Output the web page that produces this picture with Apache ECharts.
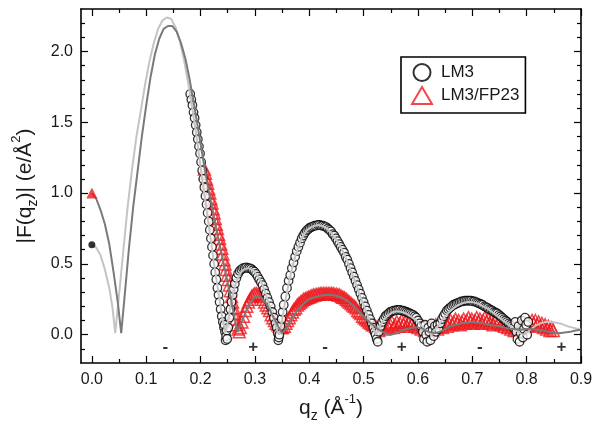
<!DOCTYPE html>
<html><head><meta charset="utf-8">
<script src="https://cdn.jsdelivr.net/npm/echarts@6/dist/echarts.min.js"></script>
<style>html,body{margin:0;padding:0;background:#fff}#c{width:601px;height:432px}</style>
</head><body><div id="c"></div>
<script>
const xMajor = [0, 0.1, 0.2, 0.3, 0.4, 0.5, 0.6, 0.7, 0.8, 0.9];
const xMinor = [0.05, 0.15, 0.25, 0.35, 0.45, 0.55, 0.65, 0.75, 0.85];
const yMajor = [0, 0.5, 1.0, 1.5, 2.0];
const yMinor = [-0.1, 0.1, 0.2, 0.3, 0.4, 0.6, 0.7, 0.8, 0.9, 1.1, 1.2, 1.3, 1.4, 1.6, 1.7, 1.8, 1.9, 2.1, 2.2];

// LM3 measured (black open circles)
const lm3Data = [
[0.181,1.70],[0.183,1.66],[0.185,1.62],[0.187,1.57],[0.189,1.53],[0.191,1.48],[0.193,1.43],[0.195,1.38],[0.197,1.33],[0.199,1.28],
[0.201,1.22],[0.203,1.16],[0.205,1.10],[0.207,1.04],[0.209,0.98],[0.211,0.92],[0.213,0.86],[0.215,0.80],[0.217,0.74],[0.219,0.68],
[0.221,0.62],[0.223,0.56],[0.225,0.50],[0.227,0.44],[0.229,0.39],[0.231,0.33],[0.233,0.28],[0.235,0.23],[0.237,0.18],[0.239,0.13],
[0.241,0.09],[0.243,0.05],[0.244,0.07],[0.245,0.02],[0.246,-0.04],[0.247,-0.01],[0.248,0.03],[0.249,-0.03],
[0.251,0.05],[0.253,0.12],[0.255,0.18],[0.257,0.23],[0.259,0.28],[0.261,0.32],[0.263,0.36],[0.266,0.40],[0.269,0.43],[0.272,0.45],
[0.275,0.46],[0.278,0.47],[0.281,0.47],[0.284,0.475],[0.287,0.47],[0.290,0.47],[0.293,0.465],[0.296,0.455],[0.299,0.445],[0.302,0.43],
[0.305,0.41],[0.308,0.39],[0.311,0.37],[0.314,0.35],[0.317,0.32],[0.320,0.29],[0.323,0.26],[0.326,0.23],[0.329,0.20],[0.332,0.16],
[0.335,0.12],[0.338,0.08],[0.340,0.05],[0.342,0.01],[0.343,-0.04],[0.344,-0.02],[0.345,0.00],
[0.347,0.06],[0.349,0.11],[0.351,0.16],[0.353,0.21],[0.356,0.27],[0.359,0.33],[0.362,0.38],[0.365,0.42],[0.368,0.47],[0.371,0.51],
[0.374,0.55],[0.377,0.59],[0.380,0.62],[0.383,0.65],[0.386,0.68],[0.389,0.70],[0.392,0.72],[0.395,0.735],[0.398,0.745],[0.401,0.755],
[0.404,0.76],[0.407,0.765],[0.410,0.77],[0.413,0.77],[0.416,0.775],[0.419,0.775],[0.422,0.77],[0.425,0.77],[0.428,0.765],[0.431,0.76],
[0.434,0.75],[0.437,0.74],[0.440,0.73],[0.443,0.71],[0.446,0.70],[0.449,0.68],[0.452,0.66],[0.455,0.64],[0.458,0.62],[0.461,0.60],
[0.464,0.58],[0.467,0.55],[0.470,0.53],[0.473,0.50],[0.476,0.47],[0.479,0.44],[0.482,0.41],[0.485,0.38],[0.488,0.35],[0.491,0.32],
[0.494,0.29],[0.497,0.26],[0.500,0.23],[0.503,0.20],[0.506,0.17],[0.509,0.14],[0.512,0.11],[0.515,0.08],[0.518,0.05],[0.520,0.02],
[0.522,0.00],[0.524,-0.03],[0.526,-0.05],
[0.528,0.02],[0.531,0.06],[0.534,0.09],[0.537,0.11],[0.540,0.13],[0.543,0.14],[0.546,0.15],[0.549,0.16],[0.552,0.165],[0.555,0.17],
[0.558,0.17],[0.561,0.175],[0.564,0.175],[0.567,0.175],[0.570,0.17],[0.573,0.17],[0.576,0.165],[0.579,0.16],[0.582,0.155],[0.585,0.15],
[0.588,0.145],[0.591,0.14],[0.594,0.13],[0.597,0.12],[0.600,0.10],[0.603,0.08],[0.606,0.06],
[0.609,0.02],[0.611,-0.03],[0.613,0.07],[0.615,0.00],[0.617,-0.05],[0.619,0.05],[0.621,0.02],[0.623,-0.04],[0.625,0.08],[0.627,0.03],
[0.629,-0.01],[0.631,0.06],[0.633,0.02],[0.636,0.07],[0.638,0.04],
[0.641,0.08],[0.644,0.11],[0.647,0.13],[0.650,0.15],[0.653,0.17],[0.656,0.18],[0.659,0.19],[0.662,0.20],[0.665,0.21],[0.668,0.215],
[0.671,0.22],[0.674,0.225],[0.677,0.23],[0.680,0.235],[0.683,0.235],[0.686,0.24],[0.689,0.24],[0.692,0.24],[0.695,0.24],[0.698,0.24],
[0.701,0.235],[0.704,0.235],[0.707,0.23],[0.710,0.225],[0.713,0.22],[0.716,0.215],[0.719,0.21],[0.722,0.20],[0.725,0.195],[0.728,0.19],
[0.731,0.18],[0.734,0.175],[0.737,0.17],[0.740,0.16],[0.743,0.155],[0.746,0.15],[0.749,0.14],[0.752,0.13],[0.755,0.12],[0.758,0.11],
[0.761,0.10],[0.764,0.09],[0.767,0.08],[0.770,0.07],[0.773,0.06],
[0.776,0.05],[0.779,0.09],[0.781,0.02],[0.783,-0.03],[0.785,0.06],[0.787,-0.05],[0.789,0.01],[0.791,0.10],[0.793,-0.02],[0.795,0.04],
[0.797,0.12],[0.799,0.07],[0.801,0.00],[0.803,0.09]
];

// LM3/FP23 measured (red open triangles)
const fpData = [
[0.207,1.17],[0.209,1.14],[0.211,1.10],[0.213,1.07],[0.215,1.03],[0.217,1.00],[0.219,0.96],[0.221,0.93],[0.223,0.89],[0.225,0.86],
[0.227,0.82],[0.229,0.78],[0.231,0.75],[0.233,0.71],[0.235,0.68],[0.237,0.64],[0.239,0.61],[0.241,0.57],[0.243,0.53],[0.245,0.50],
[0.247,0.46],[0.249,0.42],[0.251,0.39],[0.253,0.35],[0.255,0.31],[0.257,0.27],[0.259,0.23],[0.261,0.19],[0.263,0.15],[0.265,0.11],
[0.267,0.07],[0.269,0.04],[0.271,0.02],
[0.273,0.05],[0.276,0.09],[0.279,0.13],[0.282,0.17],[0.285,0.20],[0.288,0.23],[0.291,0.25],[0.294,0.27],[0.297,0.28],[0.300,0.29],
[0.303,0.29],[0.306,0.285],[0.309,0.28],[0.312,0.27],[0.315,0.25],[0.318,0.23],[0.321,0.21],[0.324,0.19],[0.327,0.17],[0.330,0.14],
[0.333,0.12],[0.336,0.10],[0.339,0.08],[0.342,0.07],[0.345,0.06],[0.348,0.05],
[0.351,0.05],[0.354,0.06],[0.357,0.08],[0.360,0.10],[0.363,0.12],[0.366,0.14],[0.369,0.16],[0.372,0.18],[0.375,0.19],[0.378,0.21],
[0.381,0.22],[0.384,0.23],[0.387,0.24],[0.390,0.25],[0.393,0.255],[0.396,0.26],[0.399,0.265],[0.402,0.27],[0.405,0.275],[0.408,0.28],
[0.411,0.28],[0.414,0.285],[0.417,0.285],[0.420,0.29],[0.423,0.29],[0.426,0.29],[0.429,0.29],[0.432,0.29],[0.435,0.29],[0.438,0.29],
[0.441,0.29],[0.444,0.29],[0.447,0.285],[0.450,0.285],[0.453,0.28],[0.456,0.28],[0.459,0.27],[0.462,0.265],[0.465,0.26],[0.468,0.25],
[0.471,0.24],[0.474,0.23],[0.477,0.22],[0.480,0.21],[0.483,0.20],[0.486,0.19],[0.489,0.17],[0.492,0.16],[0.495,0.15],[0.498,0.13],
[0.501,0.12],[0.504,0.11],[0.507,0.10],[0.510,0.09],[0.513,0.08],[0.516,0.07],[0.519,0.07],
[0.522,0.06],[0.525,0.05],[0.528,0.03],[0.531,0.05],[0.534,0.07],[0.537,0.04],[0.540,0.06],[0.543,0.08],[0.546,0.05],[0.549,0.07],
[0.552,0.09],[0.555,0.05],[0.558,0.07],[0.561,0.09],[0.564,0.06],[0.567,0.08],[0.570,0.10],[0.573,0.07],[0.576,0.09],[0.579,0.06],
[0.582,0.08],[0.585,0.10],[0.588,0.07],[0.591,0.09],[0.594,0.06],[0.597,0.08],[0.600,0.05],[0.603,0.07],[0.606,0.04],[0.609,0.06],
[0.612,0.03],[0.615,0.05],[0.618,0.02],[0.621,0.04],[0.624,0.06],[0.627,0.03],[0.630,0.05],[0.633,0.07],[0.636,0.04],[0.639,0.06],
[0.642,0.08],[0.645,0.05],[0.648,0.07],[0.651,0.09],[0.654,0.06],[0.657,0.08],[0.660,0.10],[0.663,0.07],[0.666,0.09],[0.669,0.11],
[0.672,0.08],[0.675,0.10],[0.678,0.07],[0.681,0.09],[0.684,0.11],[0.687,0.08],[0.690,0.10],[0.693,0.12],[0.696,0.09],[0.699,0.11],
[0.702,0.08],[0.705,0.10],[0.708,0.12],[0.711,0.09],[0.714,0.11],[0.717,0.08],[0.720,0.10],[0.723,0.12],[0.726,0.09],[0.729,0.11],
[0.732,0.08],[0.735,0.10],[0.738,0.07],[0.741,0.09],[0.744,0.11],[0.747,0.08],[0.750,0.10],[0.753,0.07],[0.756,0.09],[0.759,0.06],
[0.762,0.08],[0.765,0.05],[0.768,0.07],[0.771,0.04],[0.774,0.06],[0.777,0.03],[0.780,0.05],[0.783,0.03],[0.786,0.06],[0.789,0.04],
[0.792,0.07],[0.795,0.05],[0.798,0.08],[0.801,0.06],[0.804,0.09],[0.807,0.07],[0.810,0.10],[0.813,0.08],[0.816,0.10],[0.819,0.07],
[0.822,0.09],[0.825,0.06],[0.828,0.08],[0.831,0.05],[0.834,0.07],[0.837,0.04],[0.840,0.06],[0.843,0.03],[0.846,0.05],[0.849,0.03]
];

// first points (filled)
const lm3First = [[0.0, 0.635]];
const fpFirst = [[0.0, 1.0]];

// model fit for LM3 (light gray)
const fitLm3 = [
[0.000,0.635],[0.008,0.615],[0.016,0.56],[0.024,0.46],[0.032,0.33],[0.038,0.19],[0.043,0.01],[0.050,0.28],[0.058,0.60],[0.066,0.91],
[0.074,1.17],[0.082,1.40],[0.090,1.58],[0.098,1.77],[0.106,1.93],[0.114,2.06],[0.122,2.16],[0.130,2.22],[0.138,2.24],[0.146,2.23],
[0.154,2.17],[0.162,2.07],[0.170,1.93],[0.178,1.76],[0.186,1.57],[0.194,1.36],[0.202,1.13],[0.210,0.91],[0.218,0.69],[0.226,0.47],
[0.234,0.27],[0.240,0.12],[0.246,0.01],
[0.252,0.13],[0.258,0.26],[0.264,0.35],[0.270,0.41],[0.276,0.45],[0.282,0.465],[0.288,0.47],[0.294,0.46],[0.300,0.44],[0.306,0.41],
[0.312,0.37],[0.318,0.31],[0.324,0.24],[0.330,0.16],[0.336,0.09],[0.342,0.02],[0.345,0.00],
[0.350,0.10],[0.356,0.24],[0.362,0.36],[0.368,0.46],[0.374,0.55],[0.380,0.62],[0.386,0.68],[0.392,0.72],[0.398,0.745],[0.404,0.76],
[0.410,0.77],[0.416,0.775],[0.422,0.77],[0.428,0.76],[0.434,0.745],[0.440,0.72],[0.446,0.69],[0.452,0.66],[0.458,0.62],[0.464,0.57],
[0.470,0.52],[0.476,0.46],[0.482,0.40],[0.488,0.34],[0.494,0.27],[0.500,0.21],[0.506,0.15],[0.512,0.09],[0.518,0.04],[0.523,0.00],
[0.530,0.06],[0.538,0.11],[0.546,0.14],[0.554,0.16],[0.562,0.165],[0.570,0.16],[0.578,0.15],[0.586,0.13],[0.594,0.11],[0.602,0.08],
[0.610,0.05],[0.618,0.02],[0.625,0.00],
[0.632,0.04],[0.640,0.08],[0.650,0.13],[0.660,0.17],[0.670,0.20],[0.680,0.22],[0.690,0.23],[0.700,0.23],[0.710,0.22],[0.720,0.20],
[0.730,0.18],[0.740,0.15],[0.750,0.12],[0.760,0.09],[0.770,0.06],[0.780,0.03],[0.790,0.005],[0.795,0.00],
[0.805,0.03],[0.815,0.06],[0.825,0.08],[0.835,0.09],[0.845,0.09],[0.855,0.085],[0.865,0.075],[0.875,0.06],[0.885,0.05],[0.895,0.04],
[0.900,0.035]
];

// model fit for LM3/FP23 (dark gray)
const fitFp = [
[0.000,1.00],[0.008,0.96],[0.016,0.88],[0.024,0.78],[0.032,0.64],[0.040,0.44],[0.048,0.22],[0.054,0.01],[0.060,0.26],[0.068,0.60],
[0.076,0.90],[0.084,1.15],[0.092,1.40],[0.100,1.62],[0.108,1.82],[0.116,1.98],[0.124,2.09],[0.132,2.16],[0.140,2.18],[0.148,2.18],
[0.156,2.14],[0.164,2.06],[0.172,1.95],[0.180,1.80],[0.190,1.58],[0.200,1.35],[0.208,1.16],[0.216,1.00],[0.224,0.84],[0.232,0.69],
[0.240,0.55],[0.248,0.40],[0.256,0.25],[0.262,0.13],[0.268,0.02],
[0.276,0.09],[0.284,0.17],[0.292,0.23],[0.300,0.265],[0.306,0.27],[0.312,0.26],[0.320,0.225],[0.328,0.17],[0.336,0.11],[0.344,0.05],
[0.350,0.01],
[0.358,0.05],[0.366,0.10],[0.374,0.15],[0.382,0.19],[0.390,0.22],[0.400,0.25],[0.410,0.265],[0.420,0.275],[0.430,0.28],[0.440,0.28],
[0.450,0.275],[0.460,0.26],[0.470,0.24],[0.480,0.21],[0.490,0.17],[0.500,0.13],[0.510,0.09],[0.520,0.06],[0.530,0.03],[0.540,0.01],
[0.550,0.00],[0.560,0.01],[0.570,0.03],[0.580,0.04],[0.590,0.05],[0.600,0.05],[0.610,0.04],[0.620,0.02],[0.630,0.01],[0.640,0.02],
[0.650,0.04],[0.660,0.06],[0.670,0.07],[0.680,0.08],[0.690,0.085],[0.700,0.09],[0.710,0.085],[0.720,0.08],[0.730,0.07],[0.740,0.065],
[0.750,0.06],[0.760,0.05],[0.770,0.04],[0.780,0.04],[0.790,0.035],[0.800,0.04],[0.810,0.04],[0.820,0.035],[0.830,0.03],[0.840,0.02],
[0.850,0.015],[0.860,0.01],[0.870,0.015],[0.880,0.02],[0.890,0.03],[0.900,0.035]
];

// sign annotations
const signQ = [0.135, 0.297, 0.429, 0.570, 0.714, 0.864];
const signText = ['-', '+', '-', '+', '-', '+'];
const signY = -0.09;

const FONT = 'Liberation Sans, Arial, Helvetica, sans-serif';
const TXT = '#1a1a1a';
const chart = echarts.init(document.getElementById('c'), null, {renderer: 'canvas'});

const nameStyle = {fontSize: 21, fontFamily: FONT, color: TXT, lineHeight: 30,
  rich: {s: {fontSize: 14, fontFamily: FONT, color: TXT, verticalAlign: 'bottom', lineHeight: 30},
         p: {fontSize: 13, fontFamily: FONT, color: TXT, verticalAlign: 'top', lineHeight: 30}}};

function xAx(pos, vals, len, showLine, showLabel, name) {
  const a = {
    type: 'value', position: pos, min: -0.02, max: 0.9, gridIndex: 0,
    axisLine: {show: showLine, onZero: false, lineStyle: {color: '#000', width: 1.6}},
    axisTick: {show: true, inside: true, length: len, customValues: vals, lineStyle: {color: '#000', width: 1.2}},
    axisLabel: {show: showLabel, customValues: vals, formatter: v => v.toFixed(1), color: TXT, fontSize: 16, fontFamily: FONT, margin: 9},
    splitLine: {show: false}
  };
  if (name) { a.name = name; a.nameLocation = 'middle'; a.nameGap = 29; a.nameTextStyle = nameStyle; }
  return a;
}
function yAx(pos, vals, len, showLine, showLabel, name) {
  const a = {
    type: 'value', position: pos, min: -0.2, max: 2.3, gridIndex: 0,
    axisLine: {show: showLine, onZero: false, lineStyle: {color: '#000', width: 1.6}},
    axisTick: {show: true, inside: true, length: len, customValues: vals, lineStyle: {color: '#000', width: 1.2}},
    axisLabel: {show: showLabel, customValues: vals, formatter: v => v.toFixed(1), color: TXT, fontSize: 16, fontFamily: FONT, margin: 8},
    splitLine: {show: false}
  };
  if (name) { a.name = name; a.nameLocation = 'middle'; a.nameGap = 41; a.nameRotate = 90; a.nameTextStyle = nameStyle; }
  return a;
}

const option = {
  backgroundColor: '#fff',
  animation: false,
  grid: {left: 81, top: 9, right: 20, bottom: 69, containLabel: false},
  xAxis: [
    xAx('bottom', xMajor, 7, true, true, 'q{s|z} (Å{p|-1})'),
    xAx('bottom', xMinor, 4, false, false),
    xAx('top', xMajor, 7, true, false),
    xAx('top', xMinor, 4, false, false)
  ],
  yAxis: [
    yAx('left', yMajor, 7, true, true, '|F(q{s|z})| (e/Å{p|2})'),
    yAx('left', yMinor, 4, false, false),
    yAx('right', yMajor, 7, true, false),
    yAx('right', yMinor, 4, false, false)
  ],
  legend: {
    orient: 'vertical', left: 401, top: 57,
    data: ['LM3', 'LM3/FP23'],
    itemWidth: 20, itemHeight: 17, itemGap: 4,
    padding: [6, 6, 8, 10],
    borderColor: '#000', borderWidth: 1.6, backgroundColor: '#fff',
    textStyle: {fontSize: 17, fontFamily: FONT, color: TXT, padding: [0, 0, 0, 4]}
  },
  series: [
    {name: 'LM3/FP23', type: 'scatter', data: fpData, symbol: 'triangle', symbolSize: 12, z: 2,
     itemStyle: {color: 'rgba(255,255,255,0)', borderColor: '#ec1a1f', borderWidth: 1.5}},
    {name: 'LM3', type: 'scatter', data: lm3Data, symbol: 'circle', symbolSize: 8.5, z: 3,
     itemStyle: {color: '#fff', borderColor: '#000', borderWidth: 1.3}},
    {name: 'fitLM3', type: 'line', data: fitLm3, showSymbol: false, symbol: 'none', z: 4,
     lineStyle: {color: '#c4c4c4', width: 2}},
    {name: 'fitFP', type: 'line', data: fitFp, showSymbol: false, symbol: 'none', z: 5,
     lineStyle: {color: '#7a7a7a', width: 2}},
    {name: 'fpFirst', type: 'scatter', data: fpFirst, symbol: 'triangle', symbolSize: 11, z: 6,
     itemStyle: {color: '#ec1a1f'}},
    {name: 'lm3First', type: 'scatter', data: lm3First, symbol: 'circle', symbolSize: 7, z: 6,
     itemStyle: {color: '#000'}},
    {name: 'signs', type: 'scatter', symbolSize: 0, z: 7, silent: true,
     data: signQ.map((q, i) => [q, signY, signText[i]]),
     label: {show: true, position: 'inside', formatter: p => p.value[2], fontSize: 17, fontWeight: 'bold', fontFamily: FONT, color: '#000'}}
  ]
};
chart.setOption(option);
</script>
</body></html>
